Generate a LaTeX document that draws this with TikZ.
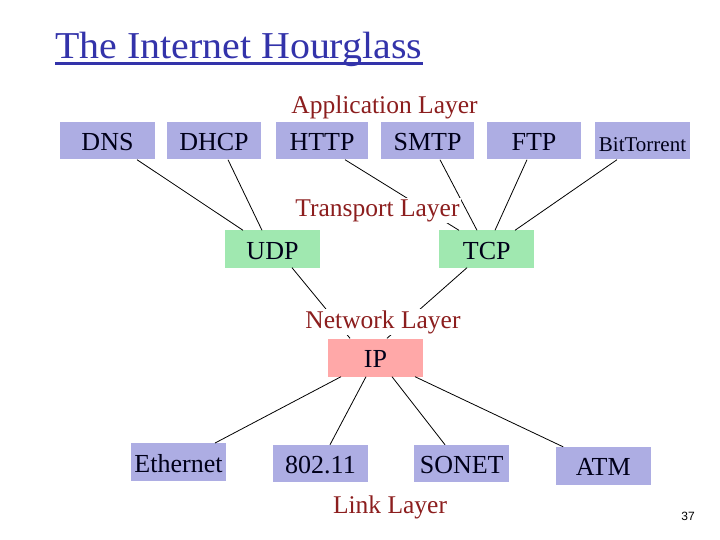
\documentclass[tikz,border=0pt]{standalone}
\usepackage{fontspec}
\setmainfont{Liberation Serif}
\newfontfamily\titlefont[FakeStretch=1.05]{Liberation Serif}
\newfontfamily\pagefont{Liberation Sans}
\definecolor{appbox}{RGB}{173,173,227}
\definecolor{trbox}{RGB}{160,232,176}
\definecolor{ipbox}{RGB}{255,168,168}
\definecolor{layerred}{RGB}{140,30,30}
\definecolor{titleblue}{RGB}{51,51,170}
\begin{document}
\begin{tikzpicture}[x=1pt,y=-1pt,
  box/.style={draw=none,minimum width=95pt,minimum height=37pt,inner sep=0pt,text height=20pt,text depth=0pt,text=black!90!blue,font=\fontsize{26}{26}\selectfont},
  abox/.style={box,fill=appbox},
  tbox/.style={box,fill=trbox},
  ibox/.style={box,fill=ipbox,minimum height=38pt},
  lbox/.style={box,fill=appbox,minimum height=37.5pt},
  layer/.style={fill=white,inner sep=1pt,anchor=base,text=layerred,font=\fontsize{25.5}{25.5}\selectfont},
  conn/.style={draw=black,line width=0.8pt}]
\useasboundingbox (0,0) rectangle (720,540);
% title
\node[anchor=base west,inner sep=0pt,text=titleblue,font=\titlefont\fontsize{38}{38}\selectfont] (title) at (55,58.3) {The Internet Hourglass};
\draw[titleblue,line width=2.7pt] (title.base west) ++(0,5.4) coordinate (ul1) -- (ul1 -| title.base east);
% application
\node[abox,minimum width=95pt] (DNS) at (107.5,141) {DNS};
\node[abox,minimum width=94pt] (DHCP) at (214,141) {DHCP};
\node[abox,minimum width=92pt] (HTTP) at (322,141) {HTTP};
\node[abox,minimum width=93pt] (SMTP) at (427.5,141) {SMTP};
\node[abox,minimum width=94pt] (FTP) at (534,141) {FTP};
\node[abox,minimum width=95pt,font=\fontsize{21}{21}\selectfont,text height=21pt] (BT) at (642.5,141) {BitTorrent};
% transport
\node[tbox] (UDP) at (272.5,249) {UDP};
\node[tbox] (TCP) at (486.8,249) {TCP};
% network
\node[ibox] (IP) at (375.5,357.5) {IP};
% link
\node[lbox] (ETH) at (178.5,462) {Ethernet};
\node[lbox] (WIFI) at (320.5,463.7) {802.11};
\node[lbox] (SONET) at (461.7,463.7) {SONET};
\node[lbox] (ATM) at (603.2,465.8) {ATM};
% connectors
\draw[conn] ([xshift=29.5pt]DNS.south) -- ([xshift=-29.5pt]UDP.north);
\draw[conn] ([xshift=14pt]DHCP.south) -- ([xshift=-10.5pt]UDP.north);
\draw[conn] ([xshift=23pt]HTTP.south) -- ([xshift=-27.8pt]TCP.north);
\draw[conn] ([xshift=12.5pt]SMTP.south) -- ([xshift=-9.8pt]TCP.north);
\draw[conn] ([xshift=-7pt]FTP.south) -- ([xshift=8.2pt]TCP.north);
\draw[conn] ([xshift=-25.5pt]BT.south) -- ([xshift=28.2pt]TCP.north);
\draw[conn] ([xshift=19.5pt]UDP.south) -- ([xshift=-25.5pt]IP.north);
\draw[conn] ([xshift=-19.8pt]TCP.south) -- ([xshift=11.5pt]IP.north);
\draw[conn] ([xshift=-34.5pt]IP.south) -- ([xshift=36.5pt]ETH.north);
\draw[conn] ([xshift=-9.5pt]IP.south) -- ([xshift=9.5pt]WIFI.north);
\draw[conn] ([xshift=16.5pt]IP.south) -- ([xshift=-16.7pt]SONET.north);
\draw[conn] ([xshift=39.5pt]IP.south) -- ([xshift=-40pt]ATM.north);
% layer labels
\node[layer] (applayer) at (384.5,113.5) {Application Layer};
\node[layer] (trlayer) at (377.5,216) {Transport Layer};
\node[layer] (netlayer) at (383,328) {Network Layer};
\node[layer] (linklayer) at (390,513.3) {Link Layer};
% page number
\node[font=\pagefont\fontsize{12}{12}\selectfont,inner sep=0pt] (pg) at (688,516) {37};
\end{tikzpicture}
\end{document}
